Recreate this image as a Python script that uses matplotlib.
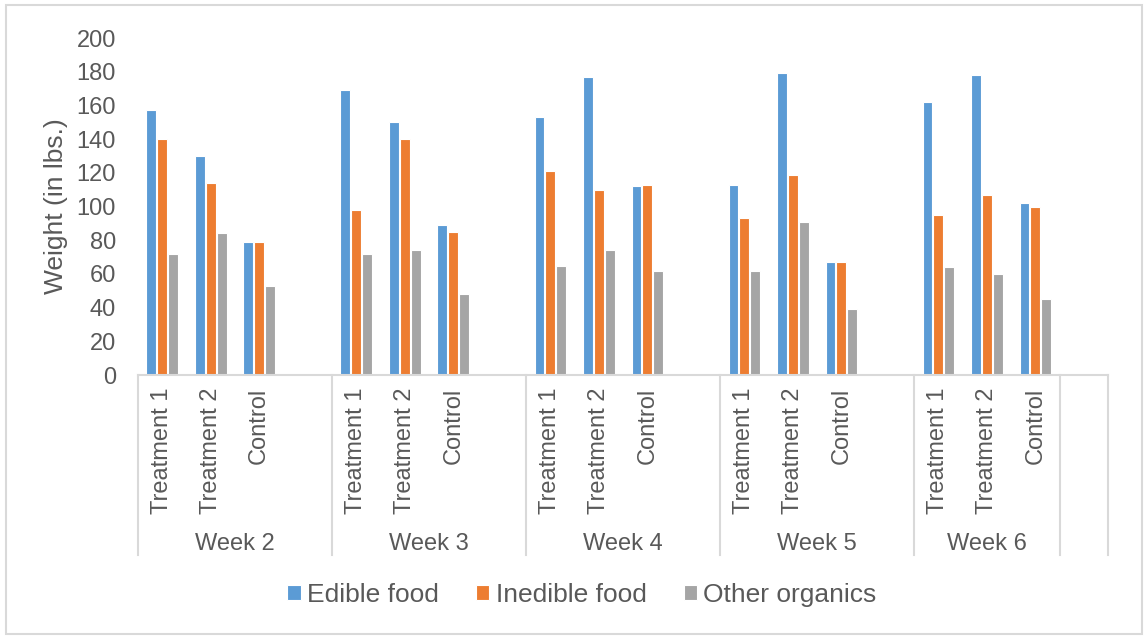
import numpy as np
import matplotlib
matplotlib.use("Agg")
import matplotlib.pyplot as plt
import matplotlib.transforms as mtransforms
from matplotlib.patches import Rectangle

# weights in lbs, one value per week x group
weeks = ["Week 2", "Week 3", "Week 4", "Week 5", "Week 6"]
groups = ["Treatment 1", "Treatment 2", "Control"]
series_names = ["Edible food", "Inedible food", "Other organics"]

edible = [157, 130, 79,
          169, 150, 89,
          153, 177, 112,
          113, 179, 67,
          162, 178, 102]
inedible = [140, 114, 79,
            98, 140, 85,
            121, 110, 113,
            93, 119, 67,
            95, 107, 100]
other = [72, 84, 53,
         72, 74, 48,
         65, 74, 62,
         62, 91, 39,
         64, 60, 45]

colors = ["#5B9BD5", "#ED7D31", "#A5A5A5"]
text_color = "#595959"
line_color = "#D9D9D9"

plt.rcParams["font.family"] = ["Liberation Sans", "DejaVu Sans"]

fig = plt.figure(figsize=(11.48, 6.39), dpi=100)
ax = fig.add_axes([0.1202, 0.4131, 0.8450, 0.5274])

# each week takes 4 slots (3 groups + a blank one), plus one trailing blank slot
slots_per_week = len(groups) + 1
n_slots = slots_per_week * len(weeks)
x = np.array([w * slots_per_week + g for w in range(len(weeks)) for g in range(len(groups))])

width = 0.2
offsets = [-0.225, 0.0, 0.225]
for vals, off, col, name in zip([edible, inedible, other], offsets, colors, series_names):
    ax.bar(x + off, vals, width, color=col, edgecolor="white", linewidth=0.8, label=name)

ax.set_xlim(-0.5, n_slots - 0.5)
ax.set_ylim(0, 200)
ax.set_yticks(np.arange(0, 201, 20))
ax.tick_params(axis="y", length=0, labelsize=17, colors=text_color, pad=16)
ax.set_xticks([])
for s in ["top", "right", "left"]:
    ax.spines[s].set_visible(False)
ax.spines["bottom"].set_color(line_color)
ax.spines["bottom"].set_linewidth(1.5)
ax.set_ylabel("Weight (in lbs.)", fontsize=19, color=text_color, labelpad=6)

# two-level category axis
trans = mtransforms.blended_transform_factory(ax.transData, ax.transAxes)
for xi, w in zip(x, [g for _ in weeks for g in groups]):
    ax.text(xi, -0.037, w, rotation=90, ha="center", va="top", fontsize=17,
            color=text_color, transform=trans, clip_on=False)
for wi, wk in enumerate(weeks):
    left = wi * slots_per_week - 0.5
    right = left + slots_per_week if wi < len(weeks) - 1 else left + len(groups)
    ax.text((left + right) / 2, -0.50, wk, ha="center", va="center", fontsize=17,
            color=text_color, transform=trans, clip_on=False)
bounds = [wi * slots_per_week - 0.5 for wi in range(len(weeks))]
bounds += [bounds[-1] + len(groups), n_slots - 0.5]
for b in bounds:
    ax.plot([b, b], [0, -0.534], color=line_color, linewidth=1.5, transform=trans, clip_on=False)

fig.legend(loc="center", bbox_to_anchor=(582 / 1148, 1 - 595 / 639), ncol=3, frameon=False,
           fontsize=19, handlelength=0.5, handleheight=0.5, handletextpad=0.25,
           columnspacing=1.4, labelcolor=text_color)

# outer chart border
fig.patches.append(Rectangle((6 / 1148, 5 / 639), 1136 / 1148, 629 / 639, transform=fig.transFigure,
                             fill=False, edgecolor=line_color, linewidth=1.5))

fig.savefig("out.png", dpi=100)
